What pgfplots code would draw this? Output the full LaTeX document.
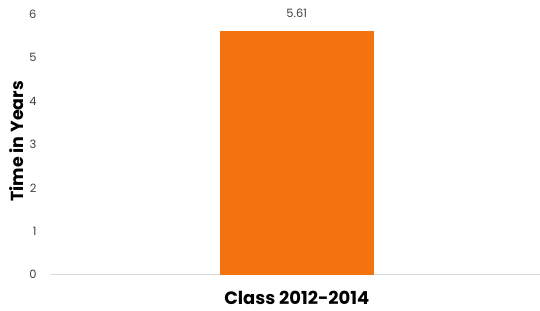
\documentclass[border=0pt]{standalone}
\usepackage{pgfplots}
\pgfplotsset{compat=1.18}
\usepackage{fontspec}
\setmainfont{Poppins}
\definecolor{barorange}{HTML}{F4730F}
\definecolor{ticktxt}{HTML}{404040}
\definecolor{axline}{HTML}{D9D9D9}
\begin{document}
\begin{tikzpicture}
\begin{axis}[
  scale only axis,
  width=489bp, height=261bp,
  xmin=-1.597, xmax=1.578,
  ymin=0, ymax=6,
  ytick={0,1,2,3,4,5,6},
  xtick={0},
  xticklabels={Class 2012-2014},
  axis y line*=left,
  y axis line style={draw=none},
  axis x line*=bottom,
  x axis line style={axline, line width=0.8pt, -},
  major tick length=0pt,
  ticklabel style={font=\fontsize{11.5}{13}\selectfont, text=ticktxt},
  /pgf/number format/assume math mode=true,
  xticklabel style={font=\bfseries\fontsize{18}{20}\selectfont, text=black, anchor=base, yshift=-30bp, inner sep=0pt},
  yticklabel style={xshift=-11bp},
  ylabel={\bfseries Time in Years},
  every axis y label/.style={at={(current axis.west)}, xshift=-34bp, yshift=3bp, rotate=90, anchor=center, font=\fontsize{17.5}{19}\selectfont, text=black},
  clip=false,
]
\addplot[ybar, bar width=154bp, fill=barorange, draw=none,
  nodes near coords, every node near coord/.style={font=\fontsize{11.5}{13}\selectfont, text=ticktxt, anchor=base, yshift=13bp},
  nodes near coords style={/pgf/number format/.cd, fixed, precision=2, fixed zerofill}
] coordinates {(0,5.61)};
\end{axis}
\path[use as bounding box] ([xshift=-51bp,yshift=-36bp]current axis.south west) rectangle ([xshift=0bp,yshift=14bp]current axis.north east);
\end{tikzpicture}
\end{document}
